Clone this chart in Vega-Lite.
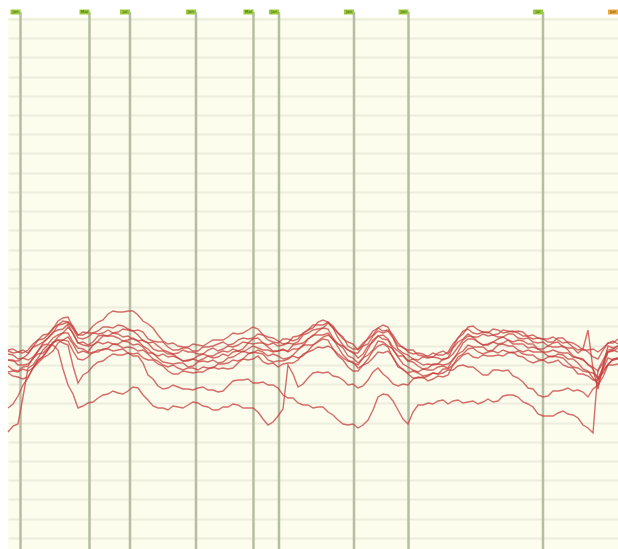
{
  "$schema": "https://vega.github.io/schema/vega-lite/v6.json",
  "width": 610,
  "height": 532,
  "autosize": {"type": "none"},
  "padding": {"left": 8, "top": 17, "right": 0, "bottom": 0},
  "background": "white",
  "config": {"view": {"fill": "#fdfded", "stroke": null}},
  "datasets": {
    "series": [
      {"day":0,"a":199,"b":198,"c":195,"d":189,"e":189,"f":183,"g":177,"h":176,"i":117,"j":141},
      {"day":10,"a":197,"b":197,"c":190,"d":188,"e":184,"f":178,"g":177,"h":172,"i":125,"j":153},
      {"day":20,"a":199,"b":196,"c":195,"d":189,"e":185,"f":183,"g":178,"h":172,"i":181,"j":171},
      {"day":30,"a":209,"b":209,"c":204,"d":198,"e":198,"f":195,"g":188,"h":186,"i":191,"j":189},
      {"day":40,"a":214,"b":215,"c":211,"d":211,"e":205,"f":201,"g":200,"h":194,"i":204,"j":199},
      {"day":50,"a":224,"b":228,"c":224,"d":219,"e":214,"f":212,"g":209,"h":206,"i":199,"j":209},
      {"day":60,"a":227,"b":232,"c":227,"d":225,"e":222,"f":216,"g":212,"h":208,"i":164,"j":204},
      {"day":70,"a":214,"b":214,"c":211,"d":206,"e":206,"f":201,"g":196,"h":190,"i":141,"j":166},
      {"day":80,"a":217,"b":216,"c":212,"d":204,"e":203,"f":197,"g":196,"h":192,"i":146,"j":177},
      {"day":90,"a":227,"b":218,"c":215,"d":213,"e":208,"f":207,"g":199,"h":197,"i":151,"j":187},
      {"day":100,"a":235,"b":222,"c":219,"d":213,"e":213,"f":207,"g":201,"h":200,"i":155,"j":192},
      {"day":110,"a":237,"b":224,"c":217,"d":215,"e":211,"f":205,"g":204,"h":199,"i":156,"j":194},
      {"day":120,"a":238,"b":220,"c":219,"d":213,"e":209,"f":207,"g":202,"h":196,"i":158,"j":196},
      {"day":130,"a":234,"b":219,"c":214,"d":208,"e":208,"f":205,"g":198,"h":196,"i":161,"j":193},
      {"day":140,"a":225,"b":210,"c":206,"d":206,"e":200,"f":196,"g":195,"h":189,"i":149,"j":174},
      {"day":150,"a":214,"b":207,"c":203,"d":198,"e":193,"f":191,"g":188,"h":185,"i":141,"j":163},
      {"day":160,"a":205,"b":202,"c":197,"d":195,"e":192,"f":186,"g":182,"h":178,"i":139,"j":161},
      {"day":170,"a":203,"b":199,"c":196,"d":191,"e":191,"f":186,"g":181,"h":175,"i":142,"j":162},
      {"day":180,"a":202,"b":201,"c":197,"d":189,"e":188,"f":182,"g":181,"h":177,"i":144,"j":160},
      {"day":190,"a":204,"b":198,"c":195,"d":193,"e":188,"f":187,"g":179,"h":177,"i":146,"j":161},
      {"day":200,"a":206,"b":202,"c":199,"d":193,"e":193,"f":187,"g":181,"h":180,"i":142,"j":159},
      {"day":210,"a":209,"b":205,"c":198,"d":196,"e":192,"f":186,"g":185,"h":180,"i":139,"j":157},
      {"day":220,"a":212,"b":204,"c":203,"d":197,"e":193,"f":191,"g":186,"h":180,"i":142,"j":163},
      {"day":230,"a":215,"b":209,"c":204,"d":198,"e":198,"f":195,"g":188,"h":186,"i":144,"j":169},
      {"day":240,"a":219,"b":210,"c":206,"d":206,"e":200,"f":196,"g":195,"h":189,"i":141,"j":170},
      {"day":250,"a":220,"b":215,"c":211,"d":206,"e":201,"f":199,"g":196,"h":193,"i":137,"j":166},
      {"day":260,"a":212,"b":209,"c":204,"d":202,"e":199,"f":193,"g":189,"h":185,"i":124,"j":164},
      {"day":270,"a":208,"b":206,"c":203,"d":198,"e":198,"f":193,"g":188,"h":182,"i":133,"j":161},
      {"day":280,"a":206,"b":210,"c":206,"d":198,"e":197,"f":191,"g":190,"h":186,"i":184,"j":151},
      {"day":290,"a":213,"b":210,"c":207,"d":205,"e":200,"f":199,"g":191,"h":189,"i":162,"j":146},
      {"day":300,"a":219,"b":219,"c":216,"d":210,"e":210,"f":204,"g":198,"h":197,"i":171,"j":144},
      {"day":310,"a":224,"b":227,"c":220,"d":218,"e":214,"f":208,"g":207,"h":202,"i":177,"j":142},
      {"day":320,"a":227,"b":227,"c":226,"d":220,"e":216,"f":214,"g":209,"h":203,"i":177,"j":137},
      {"day":330,"a":216,"b":216,"c":211,"d":205,"e":205,"f":202,"g":195,"h":193,"i":172,"j":129},
      {"day":340,"a":207,"b":203,"c":199,"d":199,"e":193,"f":189,"g":188,"h":182,"i":164,"j":124},
      {"day":350,"a":199,"b":200,"c":196,"d":191,"e":186,"f":184,"g":181,"h":178,"i":161,"j":121},
      {"day":360,"a":211,"b":210,"c":205,"d":203,"e":200,"f":194,"g":190,"h":186,"i":169,"j":129},
      {"day":370,"a":221,"b":221,"c":218,"d":213,"e":213,"f":208,"g":203,"h":197,"i":181,"j":152},
      {"day":380,"a":219,"b":222,"c":218,"d":210,"e":209,"f":203,"g":202,"h":198,"i":171,"j":154},
      {"day":390,"a":206,"b":203,"c":200,"d":198,"e":193,"f":192,"g":184,"h":182,"i":163,"j":139},
      {"day":400,"a":199,"b":197,"c":194,"d":188,"e":188,"f":182,"g":176,"h":175,"i":164,"j":125},
      {"day":410,"a":194,"b":196,"c":189,"d":187,"e":183,"f":177,"g":176,"h":171,"i":172,"j":144},
      {"day":420,"a":193,"b":192,"c":191,"d":185,"e":181,"f":179,"g":174,"h":168,"i":173,"j":146},
      {"day":430,"a":194,"b":196,"c":191,"d":185,"e":185,"f":182,"g":175,"h":173,"i":175,"j":148},
      {"day":440,"a":197,"b":195,"c":191,"d":191,"e":185,"f":181,"g":180,"h":174,"i":179,"j":145},
      {"day":450,"a":211,"b":211,"c":207,"d":202,"e":197,"f":195,"g":192,"h":189,"i":183,"j":149},
      {"day":460,"a":222,"b":220,"c":215,"d":213,"e":210,"f":204,"g":200,"h":196,"i":182,"j":147},
      {"day":470,"a":219,"b":215,"c":212,"d":207,"e":207,"f":202,"g":197,"h":191,"i":178,"j":145},
      {"day":480,"a":216,"b":217,"c":213,"d":205,"e":204,"f":198,"g":197,"h":193,"i":174,"j":150},
      {"day":490,"a":219,"b":215,"c":212,"d":210,"e":205,"f":204,"g":196,"h":194,"i":179,"j":148},
      {"day":500,"a":217,"b":218,"c":215,"d":209,"e":209,"f":203,"g":197,"h":196,"i":179,"j":154},
      {"day":510,"a":216,"b":218,"c":211,"d":209,"e":205,"f":199,"g":198,"h":193,"i":171,"j":152},
      {"day":520,"a":213,"b":212,"c":211,"d":205,"e":201,"f":199,"g":194,"h":188,"i":161,"j":145},
      {"day":530,"a":211,"b":211,"c":206,"d":200,"e":200,"f":197,"g":190,"h":188,"i":154,"j":135},
      {"day":540,"a":210,"b":207,"c":203,"d":203,"e":197,"f":193,"g":192,"h":186,"i":153,"j":133},
      {"day":550,"a":209,"b":211,"c":207,"d":202,"e":197,"f":195,"g":192,"h":189,"i":158,"j":136},
      {"day":560,"a":207,"b":206,"c":201,"d":199,"e":196,"f":190,"g":186,"h":182,"i":161,"j":135},
      {"day":570,"a":203,"b":199,"c":196,"d":191,"e":191,"f":186,"g":181,"h":175,"i":159,"j":131},
      {"day":580,"a":199,"b":197,"c":219,"d":185,"e":184,"f":178,"g":177,"h":173,"i":152,"j":121},
      {"day":590,"a":197,"b":190,"c":160,"d":170,"e":178,"f":165,"g":171,"h":169,"i":164,"j":179},
      {"day":600,"a":206,"b":206,"c":203,"d":197,"e":197,"f":191,"g":185,"h":184,"i":184,"j":199},
      {"day":610,"a":205,"b":210,"c":203,"d":201,"e":197,"f":191,"g":190,"h":185,"i":191,"j":203},
      {"day":5,"a":200,"b":196,"c":194,"d":188,"e":189,"f":179,"g":178,"h":173,"i":123,"j":145},
      {"day":15,"a":196,"b":199,"c":191,"d":191,"e":184,"f":182,"g":180,"h":170,"i":152,"j":164},
      {"day":25,"a":205,"b":202,"c":202,"d":192,"e":190,"f":191,"g":181,"h":181,"i":184,"j":181},
      {"day":35,"a":210,"b":214,"c":207,"d":206,"e":204,"f":196,"g":193,"h":191,"i":199,"j":192},
      {"day":45,"a":221,"b":220,"c":216,"d":217,"e":211,"f":206,"g":207,"h":198,"i":204,"j":206},
      {"day":55,"a":225,"b":231,"c":228,"d":220,"e":216,"f":216,"g":209,"h":209,"i":180,"j":206},
      {"day":65,"a":223,"b":221,"c":220,"d":215,"e":216,"f":207,"g":205,"h":198,"i":155,"j":183},
      {"day":75,"a":214,"b":217,"c":210,"d":207,"e":204,"f":200,"g":198,"h":189,"i":143,"j":174},
      {"day":85,"a":223,"b":216,"c":216,"d":207,"e":204,"f":204,"g":196,"h":197,"i":147,"j":183},
      {"day":95,"a":229,"b":222,"c":216,"d":214,"e":213,"f":205,"g":199,"h":200,"i":154,"j":188},
      {"day":105,"a":238,"b":221,"c":216,"d":216,"e":213,"f":205,"g":205,"h":198,"i":158,"j":195},
      {"day":115,"a":237,"b":223,"c":220,"d":212,"e":208,"f":208,"g":201,"h":200,"i":155,"j":194},
      {"day":125,"a":238,"b":218,"c":218,"d":210,"e":211,"f":204,"g":201,"h":195,"i":162,"j":193},
      {"day":135,"a":228,"b":217,"c":208,"d":209,"e":203,"f":202,"g":199,"h":191,"i":154,"j":186},
      {"day":145,"a":221,"b":208,"c":207,"d":200,"e":195,"f":196,"g":190,"h":189,"i":143,"j":170},
      {"day":155,"a":208,"b":207,"c":199,"d":198,"e":195,"f":187,"g":184,"h":183,"i":141,"j":160},
      {"day":165,"a":206,"b":199,"c":195,"d":195,"e":193,"f":185,"g":184,"h":175,"i":143,"j":164},
      {"day":175,"a":202,"b":201,"c":199,"d":188,"e":188,"f":186,"g":179,"h":178,"i":141,"j":160},
      {"day":185,"a":205,"b":198,"c":197,"d":190,"e":190,"f":183,"g":181,"h":176,"i":147,"j":159},
      {"day":195,"a":203,"b":202,"c":195,"d":195,"e":190,"f":188,"g":182,"h":177,"i":143,"j":162},
      {"day":205,"a":209,"b":203,"c":201,"d":193,"e":191,"f":189,"g":181,"h":182,"i":139,"j":159},
      {"day":215,"a":209,"b":207,"c":200,"d":198,"e":195,"f":187,"g":185,"h":181,"i":142,"j":158},
      {"day":225,"a":216,"b":205,"c":202,"d":200,"e":197,"f":192,"g":189,"h":181,"i":145,"j":168},
      {"day":235,"a":216,"b":211,"c":207,"d":200,"e":197,"f":198,"g":190,"h":190,"i":141,"j":169},
      {"day":245,"a":222,"b":211,"c":210,"d":205,"e":203,"f":196,"g":197,"h":190,"i":141,"j":166},
      {"day":255,"a":214,"b":214,"c":206,"d":206,"e":199,"f":197,"g":195,"h":187,"i":130,"j":167},
      {"day":265,"a":211,"b":207,"c":206,"d":198,"e":197,"f":195,"g":187,"h":186,"i":127,"j":164},
      {"day":275,"a":205,"b":210,"c":204,"d":199,"e":200,"f":190,"g":188,"h":185,"i":140,"j":154},
      {"day":285,"a":212,"b":208,"c":205,"d":204,"e":200,"f":194,"g":193,"h":186,"i":175,"j":151},
      {"day":295,"a":215,"b":216,"c":214,"d":206,"e":203,"f":204,"g":193,"h":195,"i":165,"j":144},
      {"day":305,"a":224,"b":221,"c":219,"d":213,"e":214,"f":204,"g":204,"h":199,"i":176,"j":141},
      {"day":315,"a":224,"b":229,"c":221,"d":221,"e":214,"f":212,"g":210,"h":201,"i":176,"j":142},
      {"day":325,"a":223,"b":221,"c":221,"d":211,"e":209,"f":210,"g":200,"h":200,"i":173,"j":134},
      {"day":335,"a":210,"b":212,"c":204,"d":203,"e":201,"f":194,"g":191,"h":189,"i":169,"j":125},
      {"day":345,"a":205,"b":200,"c":196,"d":197,"e":191,"f":186,"g":187,"h":178,"i":165,"j":125},
      {"day":355,"a":204,"b":206,"c":203,"d":195,"e":191,"f":191,"g":184,"h":184,"i":163,"j":124},
      {"day":365,"a":218,"b":214,"c":213,"d":207,"e":209,"f":199,"g":198,"h":191,"i":177,"j":139},
      {"day":375,"a":218,"b":224,"c":216,"d":214,"e":210,"f":207,"g":205,"h":196,"i":175,"j":155},
      {"day":385,"a":214,"b":212,"c":211,"d":202,"e":199,"f":200,"g":191,"h":192,"i":165,"j":148},
      {"day":395,"a":201,"b":202,"c":196,"d":194,"e":193,"f":185,"g":179,"h":180,"i":165,"j":130},
      {"day":405,"a":199,"b":195,"c":190,"d":190,"e":187,"f":179,"g":178,"h":171,"i":170,"j":137},
      {"day":415,"a":193,"b":195,"c":192,"d":184,"e":180,"f":180,"g":173,"h":172,"i":171,"j":144},
      {"day":425,"a":196,"b":192,"c":192,"d":184,"e":185,"f":179,"g":176,"h":170,"i":176,"j":145},
      {"day":435,"a":194,"b":198,"c":189,"d":190,"e":184,"f":183,"g":180,"h":172,"i":176,"j":149},
      {"day":445,"a":205,"b":202,"c":201,"d":195,"e":189,"f":190,"g":184,"h":184,"i":179,"j":148},
      {"day":455,"a":215,"b":218,"c":210,"d":209,"e":206,"f":198,"g":195,"h":194,"i":184,"j":146},
      {"day":465,"a":223,"b":216,"c":212,"d":212,"e":210,"f":202,"g":201,"h":192,"i":182,"j":148},
      {"day":475,"a":217,"b":217,"c":215,"d":204,"e":204,"f":202,"g":195,"h":194,"i":174,"j":147},
      {"day":485,"a":220,"b":214,"c":214,"d":207,"e":207,"f":199,"g":198,"h":193,"i":179,"j":147},
      {"day":495,"a":216,"b":219,"c":212,"d":212,"e":206,"f":205,"g":199,"h":193,"i":178,"j":153},
      {"day":505,"a":218,"b":217,"c":215,"d":207,"e":205,"f":203,"g":196,"h":197,"i":173,"j":154},
      {"day":515,"a":213,"b":217,"c":210,"d":208,"e":205,"f":197,"g":195,"h":192,"i":167,"j":147},
      {"day":525,"a":214,"b":210,"c":207,"d":205,"e":202,"f":197,"g":194,"h":186,"i":160,"j":142},
      {"day":535,"a":210,"b":210,"c":207,"d":200,"e":197,"f":197,"g":189,"h":189,"i":152,"j":133},
      {"day":545,"a":212,"b":207,"c":206,"d":202,"e":199,"f":192,"g":193,"h":187,"i":158,"j":133},
      {"day":555,"a":206,"b":211,"c":202,"d":203,"e":196,"f":194,"g":191,"h":184,"i":159,"j":138},
      {"day":565,"a":206,"b":202,"c":201,"d":193,"e":192,"f":190,"g":182,"h":181,"i":158,"j":134},
      {"day":575,"a":199,"b":200,"c":200,"d":189,"e":190,"f":180,"g":178,"h":175,"i":157,"j":124},
      {"day":585,"a":200,"b":192,"c":180,"d":180,"e":182,"f":171,"g":176,"h":169,"i":160,"j":116},
      {"day":595,"a":201,"b":199,"c":183,"d":182,"e":186,"f":180,"g":176,"h":179,"i":172,"j":189},
      {"day":605,"a":208,"b":206,"c":201,"d":198,"e":199,"f":189,"g":189,"h":184,"i":190,"j":200}
    ],
    "flags": [
      {"day":12.5,"label":"Jan","kind":"past"},
      {"day":81.5,"label":"Mar","kind":"past"},
      {"day":122,"label":"Jul","kind":"past"},
      {"day":188,"label":"Jan","kind":"past"},
      {"day":245.5,"label":"Mar","kind":"past"},
      {"day":271,"label":"Jan","kind":"past"},
      {"day":346,"label":"Jan","kind":"past"},
      {"day":400.5,"label":"Jan","kind":"past"},
      {"day":535,"label":"Jul","kind":"past"},
      {"day":610,"label":"Jun","kind":"current"}
    ]
  },
  "layer": [
    {
      "data": {"name": "flags"},
      "transform": [{"filter": "datum.kind === 'past'"}],
      "mark": {"type": "rule", "color": "#b5bea2", "strokeWidth": 2.5},
      "encoding": {
        "x": {"field": "day", "type": "quantitative", "scale": {"domain": [0, 610], "nice": false, "zero": false}, "axis": null},
        "y": {"datum": 537, "type": "quantitative", "scale": {"domain": [0, 532], "nice": false, "zero": false}},
        "y2": {"datum": 0}
      }
    },
    {
      "data": {"name": "series"},
      "transform": [
        {"fold": ["a","b","c","d","e","f","g","h","i","j"], "as": ["key", "value"]},
        {"filter": "isValid(datum.value)"}
      ],
      "mark": {"type": "line", "color": "#c63c3c", "strokeWidth": 1.4, "opacity": 0.75},
      "encoding": {
        "x": {"field": "day", "type": "quantitative", "scale": {"domain": [0, 610], "nice": false, "zero": false}, "axis": null},
        "y": {"field": "value", "type": "quantitative", "scale": {"domain": [0, 532], "nice": false, "zero": false},
              "axis": {"values": [11,30,50,69,88,107,126,146,165,184,203,223,242,261,280,299,319,338,357,376,396,415,434,453,472,492,511,530],
                       "tickCount": 60,
                       "grid": true, "gridColor": "#ededdf", "gridWidth": 2, "labels": false, "ticks": false, "domain": false, "title": null}},
        "detail": {"field": "key"}
      }
    },
    {
      "data": {"name": "flags"},
      "mark": {"type": "point", "shape": "M -2 -0.5 H 0 V 0.5 H -2 Z", "filled": true, "opacity": 1, "size": 100},
      "encoding": {
        "x": {"field": "day", "type": "quantitative", "scale": {"domain": [0, 610], "nice": false, "zero": false}, "axis": null},
        "y": {"datum": 537, "type": "quantitative", "scale": {"domain": [0, 532], "nice": false, "zero": false}},
        "color": {"field": "kind", "type": "nominal", "scale": {"domain": ["past", "current"], "range": ["#9acb3c", "#f0a93c"]}, "legend": null}
      }
    },
    {
      "data": {"name": "flags"},
      "mark": {"type": "text", "fontSize": 4, "dx": -5, "align": "center", "baseline": "middle", "color": "#3d5a12", "font": "DejaVu Sans"},
      "encoding": {
        "x": {"field": "day", "type": "quantitative", "scale": {"domain": [0, 610], "nice": false, "zero": false}, "axis": null},
        "y": {"datum": 537, "type": "quantitative", "scale": {"domain": [0, 532], "nice": false, "zero": false}},
        "text": {"field": "label"}
      }
    }
  ]
}
